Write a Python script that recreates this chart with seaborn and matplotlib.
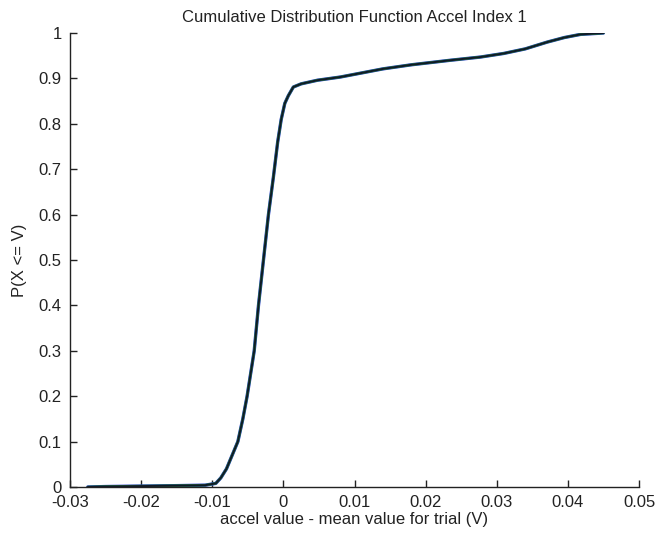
import matplotlib
matplotlib.use("Agg")
import matplotlib.pyplot as plt
import seaborn as sns
import pandas as pd

# CDF curve (accel value - mean, P(X<=V))
accel_x = [-0.0275, -0.025, -0.020, -0.015, -0.011, -0.0095, -0.0088, -0.0080,
           -0.0072, -0.0064, -0.0057, -0.0051, -0.0046, -0.0041, -0.0035,
           -0.0028, -0.0021, -0.0014, -0.0008, -0.0003, 0.0002, 0.0007,
           0.0014, 0.0025, 0.0048, 0.0080, 0.0110, 0.0140, 0.0180, 0.0235,
           0.0277, 0.0310, 0.0340, 0.0371, 0.0395, 0.0418, 0.0450]
cdf_y = [0.000, 0.001, 0.002, 0.003, 0.004, 0.008, 0.020, 0.040,
         0.070, 0.100, 0.150, 0.200, 0.250, 0.300, 0.400,
         0.500, 0.600, 0.683, 0.760, 0.810, 0.845, 0.862,
         0.881, 0.888, 0.896, 0.903, 0.912, 0.921, 0.930, 0.940,
         0.947, 0.955, 0.965, 0.980, 0.990, 0.997, 1.000]

x_ticks = [-0.03, -0.02, -0.01, 0, 0.01, 0.02, 0.03, 0.04, 0.05]
x_tick_labels = ["-0.03", "-0.02", "-0.01", "0", "0.01", "0.02", "0.03", "0.04", "0.05"]
y_ticks = [0, 0.1, 0.2, 0.3, 0.4, 0.5, 0.6, 0.7, 0.8, 0.9, 1.0]
y_tick_labels = ["0", "0.1", "0.2", "0.3", "0.4", "0.5", "0.6", "0.7", "0.8", "0.9", "1"]

sns.set_style("white")
plt.rcParams["font.family"] = ["Liberation Sans", "DejaVu Sans"]

df = pd.DataFrame({"x": accel_x, "y": cdf_y})

fig = plt.figure(figsize=(6.55, 5.38), dpi=100)
ax = fig.add_axes([70 / 655, 1 - 487 / 538, 569 / 655, 454 / 538])

layers = [("#2233cc", 2.4), ("#2a8a40", 1.9), ("#101828", 1.4)]
for color, lw in layers:
    sns.lineplot(data=df, x="x", y="y", ax=ax, color=color, linewidth=lw,
                 sort=False, estimator=None)

ax.set_xlim(-0.03, 0.05)
ax.set_ylim(0, 1)
ax.set_xticks(x_ticks)
ax.set_xticklabels(x_tick_labels)
ax.set_yticks(y_ticks)
ax.set_yticklabels(y_tick_labels)

for side in ["top", "right"]:
    ax.spines[side].set_visible(False)
for side in ["left", "bottom"]:
    ax.spines[side].set_color("#222222")
    ax.spines[side].set_linewidth(1.0)

ax.tick_params(bottom=True, left=True, direction="in", length=5, width=1.0,
               color="#222222", labelsize=12, labelcolor="#222222")
ax.tick_params(axis="x", pad=6)
ax.tick_params(axis="y", pad=6)

ax.set_title("Cumulative Distribution Function Accel Index 1", fontsize=12,
             color="#222222", pad=8)
ax.set_xlabel("accel value - mean value for trial (V)", fontsize=12,
              color="#222222", labelpad=1)
ax.set_ylabel("P(X <= V)", fontsize=12, color="#222222", labelpad=8)

fig.savefig("out.png", dpi=100)
